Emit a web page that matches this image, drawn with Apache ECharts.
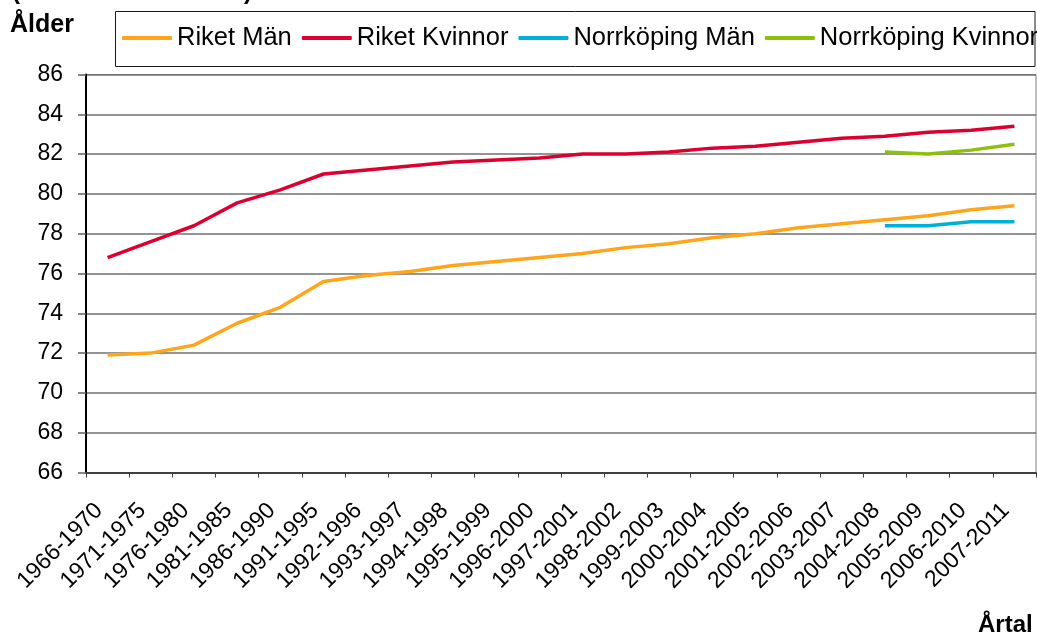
<!DOCTYPE html>
<html>
<head>
<meta charset="utf-8">
<script src="https://cdn.jsdelivr.net/npm/echarts@6/dist/echarts.min.js"></script>
<style>
  html, body { margin: 0; padding: 0; background: #ffffff; }
  #lineChart { width: 1037px; height: 641px; }
</style>
</head>
<body>
<div id="lineChart"></div>
<script>
// 5-årsperioder
var categories = ['1966-1970', '1971-1975', '1976-1980', '1981-1985', '1986-1990', '1991-1995',
  '1992-1996', '1993-1997', '1994-1998', '1995-1999', '1996-2000', '1997-2001', '1998-2002',
  '1999-2003', '2000-2004', '2001-2005', '2002-2006', '2003-2007', '2004-2008', '2005-2009',
  '2006-2010', '2007-2011'];

var seriesNames = ['Riket Män', 'Riket Kvinnor', 'Norrköping Män', 'Norrköping Kvinnor'];

var riketMan = [71.9, 72.0, 72.4, 73.5, 74.3, 75.6, 75.9, 76.1, 76.4, 76.6, 76.8,
  77.0, 77.3, 77.5, 77.8, 78.0, 78.3, 78.5, 78.7, 78.9, 79.2, 79.4];
var riketKvinnor = [76.8, 77.6, 78.4, 79.55, 80.2, 81.0, 81.2, 81.4, 81.6, 81.7, 81.8,
  82.0, 82.0, 82.1, 82.3, 82.4, 82.6, 82.8, 82.9, 83.1, 83.2, 83.4];
// Norrköping finns bara för de sista perioderna
var norrkopingMan = [null, null, null, null, null, null, null, null, null, null, null,
  null, null, null, null, null, null, null, 78.4, 78.4, 78.6, 78.6];
var norrkopingKvinnor = [null, null, null, null, null, null, null, null, null, null, null,
  null, null, null, null, null, null, null, 82.1, 82.0, 82.2, 82.5];

var yTicks = [66, 68, 70, 72, 74, 76, 78, 80, 82, 84, 86];

var colors = ['#FFA51C', '#DC0030', '#00B0D8', '#8CC00A'];
var font = "'Liberation Sans', Arial, sans-serif";

var lineChart = echarts.init(document.getElementById('lineChart'));

function makeLine(name, data, color) {
  return {
    name: name,
    type: 'line',
    data: data,
    showSymbol: false,
    symbol: 'none',
    connectNulls: false,
    lineStyle: { color: color, width: 3.5 },
    itemStyle: { color: color },
    emphasis: { disabled: true }
  };
}

lineChart.setOption({
  animation: false,
  textStyle: { fontFamily: font },
  color: colors,
  grid: {
    left: 86,
    right: 1,
    top: 74.5,
    bottom: 168.5,
    show: true,
    borderColor: '#808080',
    borderWidth: 1
  },
  // legendrutan ritas separat så texten kan sticka ut lite som i originalet
  graphic: [
    { type: 'rect', shape: { x: 115.5, y: 11.5, width: 919.5, height: 55 },
      style: { fill: 'none', stroke: '#1a1a1a', lineWidth: 1 }, z: -1 },
    { type: 'text', left: 10, top: 13,
      style: { text: 'Ålder', font: 'bold 25px ' + font, fill: '#000' } },
    { type: 'text', left: 978, top: 613,
      style: { text: 'Årtal', font: 'bold 24px ' + font, fill: '#000' } },
    { type: 'text', x: 12, y: -20,
      style: { text: '(', font: 'bold 24px ' + font, fill: '#000' } },
    { type: 'text', x: 244, y: -20,
      style: { text: ')', font: 'bold 24px ' + font, fill: '#000' } }
  ],
  legend: {
    data: seriesNames,
    orient: 'horizontal',
    left: 122,
    top: 25,
    width: 1000,
    padding: 0,
    itemGap: 10,
    itemWidth: 50,
    itemHeight: 4,
    icon: 'roundRect',
    textStyle: { fontSize: 25.5, color: '#000', fontFamily: font }
  },
  xAxis: {
    type: 'category',
    boundaryGap: true,
    data: categories,
    axisLine: { show: true, lineStyle: { color: '#404040', width: 2 } },
    axisTick: { show: true, length: 5, lineStyle: { color: '#404040', width: 1 } },
    axisLabel: {
      interval: 0,
      rotate: 45,
      margin: 26,
      padding: [0, 12, 0, 0],
      fontSize: 23,
      color: '#000',
      fontFamily: font
    },
    splitLine: { show: false }
  },
  yAxis: {
    type: 'value',
    min: yTicks[0],
    max: yTicks[yTicks.length - 1],
    interval: 2,
    axisLine: { show: true, lineStyle: { color: '#000', width: 2 } },
    axisTick: { show: true, length: 8, lineStyle: { color: '#606060', width: 1.5 } },
    axisLabel: { margin: 23, fontSize: 23, color: '#000', fontFamily: font },
    splitLine: { show: true, lineStyle: { color: '#707070', width: 1.5 } }
  },
  series: [
    makeLine(seriesNames[0], riketMan, colors[0]),
    makeLine(seriesNames[1], riketKvinnor, colors[1]),
    makeLine(seriesNames[2], norrkopingMan, colors[2]),
    makeLine(seriesNames[3], norrkopingKvinnor, colors[3])
  ]
});
</script>
</body>
</html>
